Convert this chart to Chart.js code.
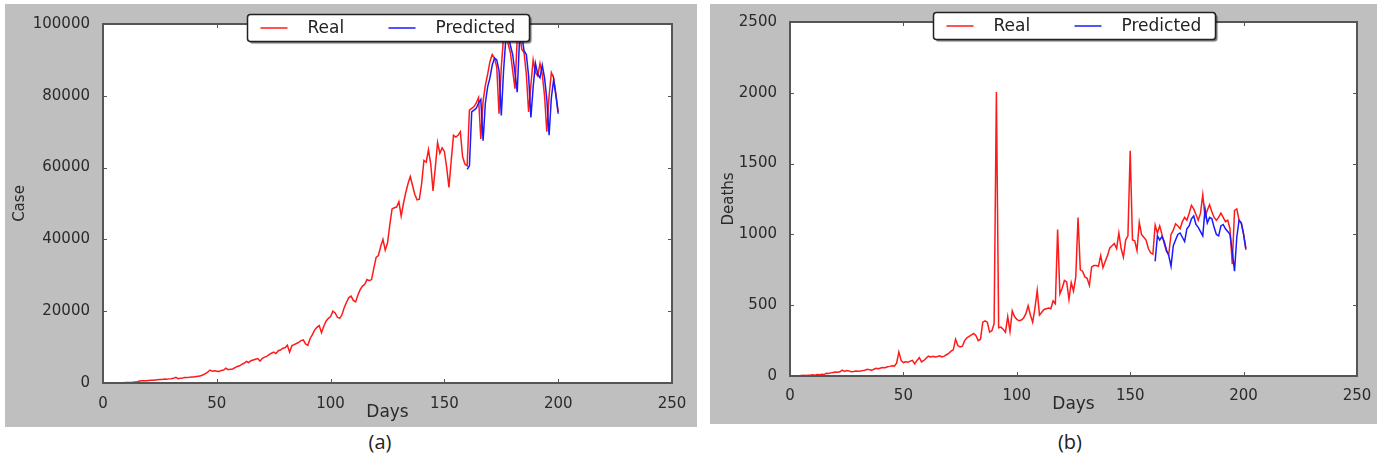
<!DOCTYPE html>
<html>
<head>
<meta charset="utf-8">
<script src="https://cdn.jsdelivr.net/npm/chart.js@4.4.0/dist/chart.umd.min.js"></script>
<style>
  body { margin: 0; background: #fff; width: 1381px; height: 461px; position: relative; overflow: hidden; }
  .panel { position: absolute; background: #bfbfbf; }
  #panelA { left: 5px; top: 4px; width: 692px; height: 423px; }
  #panelB { left: 710px; top: 4px; width: 667px; height: 420px; }
  .caption { position: absolute; top: 429px; width: 60px; text-align: center; font-family: 'Open Sans'; font-size: 20px; line-height: 26px; color: #222; }
</style>
</head>
<body>
<div class="panel" id="panelA"><canvas id="casesChart" width="692" height="423"></canvas></div>
<div class="panel" id="panelB"><canvas id="deathsChart" width="667" height="420"></canvas></div>
<div class="caption" style="left:350px">(a)</div>
<div class="caption" style="left:1040px">(b)</div>
<script>
'use strict';

// daily new cases, day 0..200
const realCases = [
  0, 0, 10, 20, 30, 50, 80, 70, 90, 100,
  120, 150, 170, 200, 250, 300, 550, 600, 650, 600,
  700, 750, 800, 850, 900, 950, 1000, 1100, 1050, 1150,
  1200, 1300, 1600, 1200, 1350, 1400, 1500, 1550, 1600, 1700,
  1650, 1800, 1900, 2000, 2300, 2600, 3000, 3600, 3300, 3400,
  3300, 3200, 3500, 3600, 4100, 3700, 3800, 3900, 4300, 4600,
  4800, 5200, 5500, 6000, 5700, 6200, 6400, 6600, 6800, 6100,
  6900, 7200, 7400, 7900, 8300, 8600, 8200, 9000, 9200, 9700,
  9800, 10500, 8600, 10400, 10700, 11000, 11300, 11800, 12000, 10900,
  10500, 12400, 13500, 14800, 15500, 16000, 14000, 15800, 17200, 18000,
  18500, 20000, 19500, 18300, 18000, 19000, 21000, 22500, 23800, 24200,
  23000, 22600, 24500, 26000, 27000, 27500, 28800, 28500, 28800, 32000,
  35000, 35500, 38000, 40000, 37000, 39000, 44000, 48500, 48800, 49000,
  50500, 46500, 50000, 53000, 55500, 57500, 55000, 52500, 51000, 51200,
  55500, 62000, 61500, 65000, 61000, 53500, 60000, 67000, 64000, 65500,
  64500, 60000, 54500, 62000, 69000, 68500, 69000, 70000, 63000, 61000,
  60500, 76000, 76500, 77000, 78000, 79500, 68000, 78500, 83000, 86000,
  89500, 91500, 90500, 88000, 75000, 88000, 96500, 97800, 94500, 92000,
  87000, 82000, 96000, 97500, 93000, 92000, 86000, 75500, 83000, 90000,
  86500, 85500, 89000, 86000, 80000, 70000, 80000, 86500, 85000, 80500,
  75500
];

// predicted cases, day 160..200
const predCasesStart = 160;
const predCases = [
  59500, 60500, 75500, 76000, 76500, 78000, 79000, 67500, 78000, 82500,
  85000, 88500, 90500, 90000, 87000, 74500, 87000, 96000, 97000, 94000,
  91500, 86500, 81000, 95500, 97000, 92500, 91500, 85500, 74000, 82500,
  89000, 86000, 85000, 88500, 85000, 79000, 69000, 79500, 84500, 80000,
  75000
];

// daily deaths, day 0..201
const realDeaths = [
  0, 0, 1, 2, 1, 3, 5, 4, 6, 5,
  8, 6, 10, 8, 12, 10, 20, 18, 22, 25,
  28, 27, 30, 42, 32, 38, 36, 30, 32, 35,
  33, 35, 38, 40, 47, 45, 40, 48, 54, 52,
  57, 60, 58, 65, 68, 72, 70, 90, 170, 110,
  95, 100, 98, 105, 110, 85, 110, 130, 100, 110,
  125, 140, 135, 140, 135, 138, 142, 135, 140, 150,
  160, 175, 185, 260, 215, 205, 210, 250, 270, 280,
  290, 300, 285, 250, 260, 380, 390, 380, 310, 320,
  370, 2006, 340, 345, 330, 310, 420, 315, 460, 420,
  400, 390, 395, 410, 440, 496, 430, 380, 480, 605,
  430, 450, 470, 475, 480, 475, 530, 510, 1035, 580,
  620, 675, 665, 540, 660, 600, 700, 1120, 750, 740,
  700, 690, 640, 770, 780, 780, 775, 850, 765, 810,
  850, 905, 920, 935, 900, 1010, 900, 840, 960, 990,
  1590, 960, 955, 885, 1085, 1000, 980, 960, 900, 870,
  860, 1065, 1010, 1060, 1000, 935, 880, 860, 1000, 1030,
  1075, 1060, 1040, 1090, 1120, 1100, 1150, 1205, 1180, 1140,
  1100, 1150, 1280, 1120, 1170, 1210, 1160, 1120, 1100, 1120,
  1150, 1120, 1090, 1100, 1040, 790, 1170, 1180, 1100, 1080,
  1000, 890
];

// predicted deaths, day 161..201
const predDeathsStart = 161;
const predDeaths = [
  810, 990, 960, 985, 950, 890, 850, 775, 920, 960,
  1000, 1010, 980, 950, 1040, 1060, 1110, 1130, 1070, 1050,
  1020, 990, 1180, 1080, 1120, 1110, 1050, 1000, 990, 1060,
  1070, 1040, 1020, 1000, 880, 740, 980, 1100, 1080, 1000,
  900
];

const dayTicks = { min: 0, max: 250, step: 50 };
const seriesLabels = ['Real', 'Predicted'];
const seriesColors = ['#ff1a1a', '#1a1aff'];

const fontFamily = 'DejaVu Sans';
const textColor = '#2a2a2a';

// white plot area, frame, inward ticks and the boxed legend on top of the lines
const framePlugin = {
  id: 'frame',
  beforeDraw(chart) {
    const ctx = chart.ctx;
    const a = chart.chartArea;
    ctx.save();
    ctx.fillStyle = '#fff';
    ctx.fillRect(a.left, a.top, a.right - a.left, a.bottom - a.top);
    ctx.restore();
  },
  afterDraw(chart) {
    const ctx = chart.ctx;
    const a = chart.chartArea;
    const xs = chart.scales.x;
    const ys = chart.scales.y;
    ctx.save();

    ctx.strokeStyle = '#555';
    ctx.lineWidth = 1;
    ctx.beginPath();
    xs.ticks.forEach(function(t) {
      const px = Math.round(xs.getPixelForValue(t.value)) + 0.5;
      ctx.moveTo(px, a.bottom); ctx.lineTo(px, a.bottom - 4);
      ctx.moveTo(px, a.top); ctx.lineTo(px, a.top + 4);
    });
    ys.ticks.forEach(function(t) {
      const py = Math.round(ys.getPixelForValue(t.value)) + 0.5;
      ctx.moveTo(a.left, py); ctx.lineTo(a.left + 4, py);
      ctx.moveTo(a.right, py); ctx.lineTo(a.right - 4, py);
    });
    ctx.stroke();

    ctx.lineWidth = 2;
    ctx.strokeStyle = '#555';
    ctx.strokeRect(a.left, a.top, a.right - a.left, a.bottom - a.top);

    // legend box
    const bw = 282, bh = 27;
    const bx = Math.round((a.left + a.right) / 2 - bw / 2) + 0.5;
    const by = Math.round(a.top - 10) + 0.5;
    ctx.shadowColor = 'rgba(0,0,0,0.55)';
    ctx.shadowOffsetX = 2;
    ctx.shadowOffsetY = 2;
    ctx.shadowBlur = 1;
    ctx.fillStyle = '#fff';
    ctx.beginPath();
    ctx.roundRect(bx, by, bw, bh, 3);
    ctx.fill();
    ctx.shadowColor = 'transparent';
    ctx.lineWidth = 1.5;
    ctx.strokeStyle = '#222';
    ctx.stroke();

    const cy = by + bh / 2;
    const sampleX = [13, 141];
    const textX = [60, 188];
    ctx.font = '17px "' + fontFamily + '"';
    ctx.textBaseline = 'middle';
    ctx.textAlign = 'left';
    for (let i = 0; i < seriesLabels.length; i++) {
      ctx.strokeStyle = seriesColors[i];
      ctx.lineWidth = 1.5;
      ctx.beginPath();
      ctx.moveTo(bx + sampleX[i], cy);
      ctx.lineTo(bx + sampleX[i] + 27, cy);
      ctx.stroke();
      ctx.fillStyle = '#222';
      ctx.fillText(seriesLabels[i], bx + textX[i], cy + 1);
    }
    ctx.restore();
  }
};

function toPoints(values, start) {
  return values.map(function(v, i) { return { x: start + i, y: v }; });
}

function makeChart(canvasId, real, predStart, pred, yMax, yStep, yTitle, g) {
  return new Chart(document.getElementById(canvasId), {
    type: 'line',
    data: {
      datasets: [
        { label: seriesLabels[0], data: toPoints(real, 0), borderColor: seriesColors[0], borderWidth: 1.5, pointRadius: 0, tension: 0, order: 1 },
        { label: seriesLabels[1], data: toPoints(pred, predStart), borderColor: seriesColors[1], borderWidth: 1.5, pointRadius: 0, tension: 0, order: 0 }
      ]
    },
    options: {
      responsive: false,
      animation: false,
      devicePixelRatio: 1,
      layout: { padding: { top: g.top, right: g.right, left: 0, bottom: 0 } },
      plugins: { legend: { display: false }, tooltip: { enabled: false } },
      scales: {
        x: {
          type: 'linear',
          min: dayTicks.min,
          max: dayTicks.max,
          grid: { display: false },
          border: { display: false },
          ticks: { stepSize: dayTicks.step, padding: g.xTickPad, maxRotation: 0, color: textColor, font: { family: fontFamily, size: 15 } },
          title: { display: true, text: 'Days', color: textColor, font: { family: fontFamily, size: 17 }, padding: { top: 0, bottom: g.xTitlePad } },
          afterFit: function(s) { s.height = g.xHeight; }
        },
        y: {
          min: 0,
          max: yMax,
          grid: { display: false },
          border: { display: false },
          ticks: { stepSize: yStep, padding: 5, color: textColor, font: { family: fontFamily, size: 15 }, callback: function(v) { return String(v); } },
          title: { display: true, text: yTitle, color: textColor, font: { family: fontFamily, size: 15 }, padding: { top: g.yTitlePad, bottom: 0 } },
          afterFit: function(s) { s.width = g.yWidth; }
        }
      }
    },
    plugins: [framePlugin]
  });
}

makeChart('casesChart', realCases, predCasesStart, predCases, 100000, 20000, 'Case',
  { top: 20, right: 25, yWidth: 98, xHeight: 44, xTickPad: 4, xTitlePad: 4, yTitlePad: 6 });

makeChart('deathsChart', realDeaths, predDeathsStart, predDeaths, 2500, 500, 'Deaths',
  { top: 18, right: 20, yWidth: 80, xHeight: 48, xTickPad: 3, xTitlePad: 9, yTitlePad: 10 });
</script>
</body>
</html>
